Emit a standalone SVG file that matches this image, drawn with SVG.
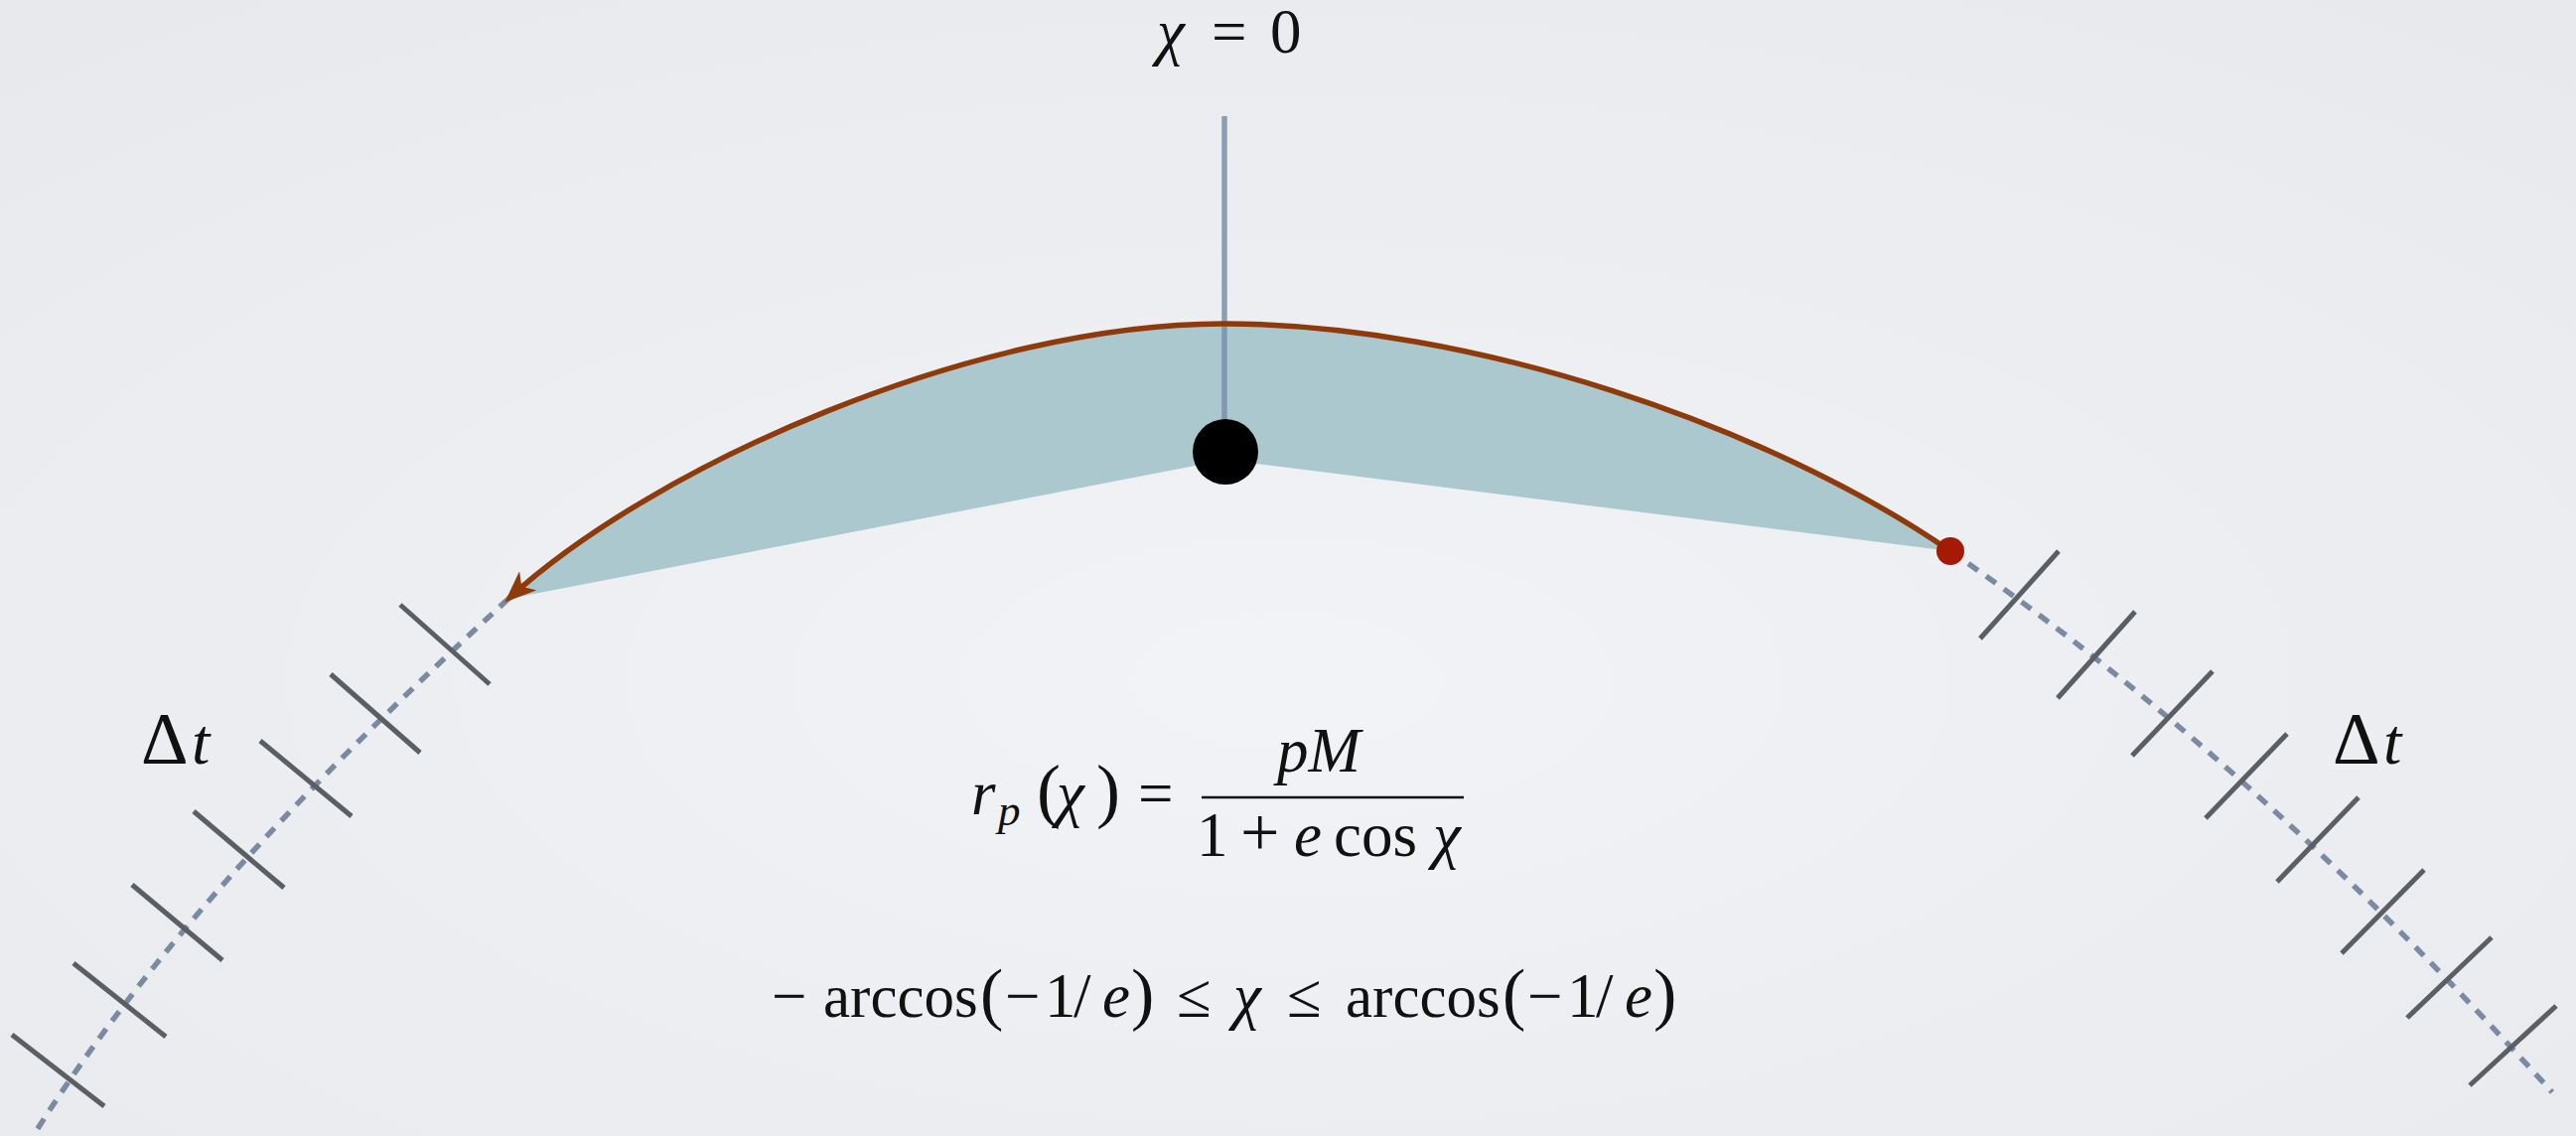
<svg xmlns="http://www.w3.org/2000/svg" width="2594" height="1144" viewBox="0 0 2594 1144">
<defs>
<radialGradient id="bg" cx="50%" cy="60%" r="75%">
<stop offset="0" stop-color="#f2f3f6"/>
<stop offset="1" stop-color="#e7e9ed"/>
</radialGradient>
<marker id="ah" markerUnits="userSpaceOnUse" markerWidth="32" markerHeight="26" viewBox="0 0 32 26" refX="27" refY="13" orient="auto-start-reverse">
<path d="M32,13 L0,0 L9,13 L0,26 Z" fill="#8e3a0b"/>
</marker>
<style>
.tx{font-family:"Liberation Serif","Times New Roman",serif;font-size:63px;fill:#111}
.it{font-style:italic}
.tick{stroke:#5b5f63;stroke-width:5;stroke-linecap:butt}
.dash{fill:none;stroke:#7a8aa3;stroke-width:5.5;stroke-dasharray:12 10}
</style>
</defs>
<rect x="0" y="0" width="2594" height="1144" fill="url(#bg)"/>
<g id="sweep">
<path d="M1234,463 L512,603 C659,468 982,326 1232,326 C1482,326 1783,430 1964,555 Z" fill="#aac8cd"/>
</g>
<g id="connectors">
<path id="axis" d="M1233,117 L1233,440" stroke="#7d8fa7" stroke-width="5.5" stroke-opacity="0.85" fill="none"/>
<path id="path-left" class="dash" d="M512,603 C336,765 163,937 32,1146"/>
<path id="path-right" class="dash" d="M1964,555 C2186,708 2385,895 2570,1100"/>
<g id="ticks-left">
<line class="tick" x1="403" y1="609" x2="493" y2="689"/>
<line class="tick" x1="333" y1="679" x2="423" y2="758"/>
<line class="tick" x1="262" y1="746" x2="354" y2="822"/>
<line class="tick" x1="195" y1="817" x2="286" y2="894"/>
<line class="tick" x1="133" y1="891" x2="224" y2="967"/>
<line class="tick" x1="74" y1="970" x2="167" y2="1044"/>
<line class="tick" x1="12" y1="1042" x2="105" y2="1114"/>
</g>
<g id="ticks-right">
<line class="tick" x1="2073" y1="555" x2="1994" y2="643"/>
<line class="tick" x1="2150" y1="616" x2="2072" y2="703"/>
<line class="tick" x1="2228" y1="676" x2="2147" y2="761"/>
<line class="tick" x1="2303" y1="739" x2="2221" y2="824"/>
<line class="tick" x1="2375" y1="803" x2="2293" y2="888"/>
<line class="tick" x1="2441" y1="876" x2="2358" y2="960"/>
<line class="tick" x1="2509" y1="944" x2="2424" y2="1025"/>
<line class="tick" x1="2574" y1="1013" x2="2487" y2="1093"/>
</g>
<path id="orbit" d="M512,603 C659,468 982,326 1232,326 C1482,326 1783,430 1964,555" fill="none" stroke="#8e3a0b" stroke-width="5.5" marker-start="url(#ah)"/>
</g>
<g id="central-body">
<circle cx="1234" cy="455" r="33" fill="#000"/>
</g>
<g id="particle">
<circle cx="1964" cy="555" r="14" fill="#a51a05"/>
</g>
<g id="label-chi0">
<text class="tx" y="53"><tspan class="it" x="1165">χ</tspan><tspan x="1220">=</tspan><tspan x="1279">0</tspan></text>
</g>
<g id="label-dt-left">
<text class="tx" y="769" style="font-size:66px"><tspan x="142" style="font-size:74px">Δ</tspan><tspan class="it" x="193">t</tspan></text>
</g>
<g id="label-dt-right">
<text class="tx" y="769" style="font-size:66px"><tspan x="2349" style="font-size:74px">Δ</tspan><tspan class="it" x="2400">t</tspan></text>
</g>
<g id="formula-r">
<text class="tx" y="820"><tspan class="it" x="978">r</tspan><tspan class="it" x="1005" y="831" style="font-size:45px">p</tspan><tspan x="1044" y="820" style="font-size:72px">(</tspan><tspan class="it" x="1064" y="820">χ</tspan><tspan x="1104" style="font-size:72px">)</tspan><tspan x="1146">=</tspan></text>
<line x1="1210" y1="803" x2="1474" y2="803" stroke="#111" stroke-width="2.5"/>
<text class="tx" y="777"><tspan class="it" x="1286">pM</tspan></text>
<text class="tx" y="862"><tspan x="1205">1</tspan><tspan x="1249" style="font-size:70px">+</tspan><tspan class="it" x="1303">e</tspan><tspan x="1343">cos</tspan><tspan class="it" x="1443">χ</tspan></text>
</g>
<g id="formula-range">
<text class="tx" y="1024"><tspan x="777">−</tspan><tspan x="829" style="font-size:61px">arccos</tspan><tspan x="987" style="font-size:70px">(</tspan><tspan x="1012">−</tspan><tspan x="1052">1</tspan><tspan x="1081">/</tspan><tspan class="it" x="1110">e</tspan><tspan x="1139" style="font-size:70px">)</tspan><tspan x="1185">≤</tspan><tspan class="it" x="1242">χ</tspan><tspan x="1296">≤</tspan><tspan x="1355" style="font-size:61px">arccos</tspan><tspan x="1513" style="font-size:70px">(</tspan><tspan x="1538">−</tspan><tspan x="1578">1</tspan><tspan x="1607">/</tspan><tspan class="it" x="1636">e</tspan><tspan x="1665" style="font-size:70px">)</tspan></text>
</g>
</svg>
